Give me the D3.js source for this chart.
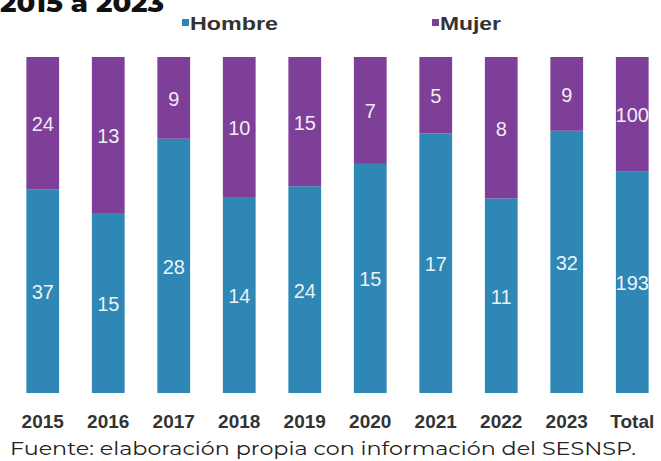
<!DOCTYPE html>
<meta charset="utf-8">
<script src="https://d3js.org/d3.v7.min.js"></script>
<style>
  body { margin: 0; background: #fff; }
</style>
<div id="chart"></div>
<script>

// data
var years = ["2015", "2016", "2017", "2018", "2019", "2020", "2021", "2022", "2023", "Total"];
var hombre = [37, 15, 28, 14, 24, 15, 17, 11, 32, 193];
var mujer = [24, 13, 9, 10, 15, 7, 5, 8, 9, 100];
var series = ["Hombre", "Mujer"];
var colors = ["#2f87b6", "#7d3f98"];

var W = 661, H = 461;
var svg = d3.select("#chart").append("svg")
  .attr("width", W).attr("height", H);

var x = d3.scaleBand()
  .domain(years)
  .range([10, 665])
  .paddingInner(0.5)
  .paddingOuter(0.25);

var y = d3.scaleLinear()
  .domain([0, 1])
  .range([393, 57]);

var rows = years.map(function(d, i) {
  return {year: d, Hombre: hombre[i] / (hombre[i] + mujer[i]), Mujer: mujer[i] / (hombre[i] + mujer[i]),
          hv: hombre[i], mv: mujer[i]};
});
var stacked = d3.stack().keys(series)(rows);

// title (cut at top, like the source image)
svg.append("text")
  .attr("x", 0).attr("y", 12)
  .attr("font-family", "Montserrat, 'Open Sans', sans-serif")
  .attr("font-weight", 800)
  .attr("font-size", 26)
  .attr("textLength", 164)
  .attr("lengthAdjust", "spacingAndGlyphs")
  .attr("fill", "#111")
  .text("2015 a 2023");

// legend
var leg = [{name: "Hombre", x: 182, w: 88}, {name: "Mujer", x: 432, w: 61}];
leg.forEach(function(l, i) {
  svg.append("rect").attr("x", l.x).attr("y", 19).attr("width", 7).attr("height", 7).attr("fill", colors[i]);
  svg.append("text").attr("x", l.x + 8).attr("y", 30)
    .attr("font-family", "'Liberation Sans', Arial, sans-serif")
    .attr("font-size", 19)
    .attr("font-weight", "bold")
    .attr("textLength", l.w)
    .attr("lengthAdjust", "spacingAndGlyphs")
    .attr("fill", "#333")
    .text(l.name);
});

// bars
var g = svg.selectAll("g.layer")
  .data(stacked)
  .enter().append("g")
    .attr("class", "layer")
    .attr("fill", function(d, i) { return colors[i]; });

g.selectAll("rect")
  .data(function(d) { return d; })
  .enter().append("rect")
    .attr("x", function(d) { return x(d.data.year); })
    .attr("y", function(d) { return y(d[1]); })
    .attr("width", x.bandwidth())
    .attr("height", function(d) { return y(d[0]) - y(d[1]); });

// value labels
g.selectAll("text")
  .data(function(d, i) { return d.map(function(p) { p.key = i; return p; }); })
  .enter().append("text")
    .attr("x", function(d) { return x(d.data.year) + x.bandwidth() / 2; })
    .attr("y", function(d) { return (y(d[0]) + y(d[1])) / 2 + 8; })
    .attr("text-anchor", "middle")
    .attr("font-family", "'Liberation Sans', Arial, sans-serif")
    .attr("font-size", 20)
    .attr("fill", "#fff")
    .attr("fill-opacity", 0.92)
    .text(function(d) { return d.key === 0 ? d.data.hv : d.data.mv; });

// x axis labels
var xAxis = svg.append("g")
  .attr("transform", "translate(0,410)")
  .call(d3.axisBottom(x).tickSize(0).tickPadding(5));
xAxis.select(".domain").remove();
xAxis.selectAll("text")
  .attr("font-family", "'Liberation Sans', Arial, sans-serif")
  .attr("font-weight", "bold")
  .attr("font-size", 19)
  .attr("fill", "#333");

// source
svg.append("text")
  .attr("x", 10).attr("y", 455)
  .attr("font-family", "Montserrat, 'Open Sans', sans-serif")
  .attr("font-size", 18)
  .attr("textLength", 626)
  .attr("lengthAdjust", "spacingAndGlyphs")
  .attr("fill", "#222")
  .text("Fuente: elaboración propia con información del SESNSP.");

</script>
